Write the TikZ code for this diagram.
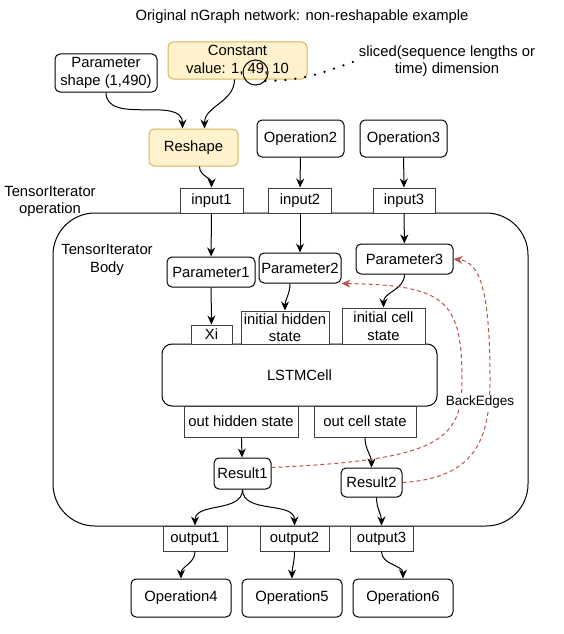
\documentclass[tikz,border=0pt]{standalone}
\usepackage{fontspec}
\setmainfont{Liberation Sans}
\usetikzlibrary{arrows.meta,positioning,calc,shapes}

\definecolor{noteyellow}{HTML}{FFF2CC}
\definecolor{noteborder}{HTML}{D6B656}
\definecolor{backred}{HTML}{B85450}

\tikzset{
  opbox/.style={draw, rounded corners=5pt, line width=1pt, fill=white, align=center, inner sep=0pt},
  yellowbox/.style={opbox, draw=noteborder, fill=noteyellow},
  portbox/.style={draw=black!75, line width=1pt, fill=white, align=center, inner sep=0pt},
  flow/.style={line width=1pt, -{Stealth[length=9pt,width=8pt]}},
  backedge/.style={draw=backred, line width=1pt, dashed, dash pattern=on 4pt off 3pt, -{Stealth[length=9pt,width=8pt]}}
}

\begin{document}
\begin{tikzpicture}[x=1pt, y=-1pt, font=\fontsize{14.8}{17.5}\selectfont]
        % the frame of the page
        \useasboundingbox (0,0) rectangle (564,634);

        % title and notes
        \node (title) at (302,17) {Original nGraph network: non-reshapable example};
        \node[align=center] (sliced) at (447,61) {sliced(sequence lengths or\\time) dimension};
        \node[align=center] (tiop) at (50,201.5) {TensorIterator\\operation};

        % the TensorIterator operation
        \draw[line width=1pt, rounded corners=42pt] (53,213) rectangle (528,526);
        \node[align=center] (tibody) at (107,260) {TensorIterator\\Body};

        % nodes outside
        \node[opbox, minimum width=102pt, minimum height=38pt] (param) at (106,73) {Parameter\\shape (1,490)};
        \node[yellowbox, minimum width=139pt, minimum height=37pt] (const) at (237.5,60.5) {Constant\\value: 1, 49, 10};
        \node[draw, circle, line width=1pt, minimum size=25pt, inner sep=0pt] (circ) at (255.5,72.5) {};
        \node[yellowbox, minimum width=89pt, minimum height=37pt] (reshape) at (193.5,147.5) {Reshape};
        \node[opbox, minimum width=87pt, minimum height=37pt] (op2) at (300.5,138.5) {Operation2};
        \node[opbox, minimum width=87pt, minimum height=37pt] (op3) at (403.5,138.5) {Operation3};

        % ports
        \node[portbox, minimum width=63pt, minimum height=25pt] (in1) at (211.5,200.5) {input1};
        \node[portbox, minimum width=63pt, minimum height=25pt] (in2) at (300,200.5) {input2};
        \node[portbox, minimum width=62pt, minimum height=25pt] (in3) at (404,200.5) {input3};
        \node[portbox, minimum width=64pt, minimum height=25pt] (out1) at (195,538.5) {output1};
        \node[portbox, minimum width=69pt, minimum height=25pt] (out2) at (294.5,538.5) {output2};
        \node[portbox, minimum width=63pt, minimum height=25pt] (out3) at (381.5,538.5) {output3};

        % the body
        \node[opbox, minimum width=88pt, minimum height=30pt] (par1) at (211,272) {Parameter1};
        \node[opbox, minimum width=82pt, minimum height=30pt] (par2) at (300,268) {Parameter2};
        \node[opbox, minimum width=97pt, minimum height=30pt] (par3) at (404.5,259) {Parameter3};
        \node[opbox, rounded corners=10pt, minimum width=275pt, minimum height=62pt] (lstm) at (299.5,375) {LSTMCell};
        \node[portbox, minimum width=41pt, minimum height=19pt] (xi) at (211.5,334.5) {Xi};
        \node[portbox, minimum width=88pt, minimum height=33pt] (inith) at (285,327.5) {initial hidden\\state};
        \node[portbox, minimum width=83pt, minimum height=36pt] (initc) at (383.5,326) {initial cell\\state};
        \node[portbox, minimum width=114pt, minimum height=31pt] (outh) at (241,421.5) {out hidden state};
        \node[portbox, minimum width=102pt, minimum height=31pt] (outc) at (365,421.5) {out cell state};
        \node[opbox, minimum width=57pt, minimum height=31pt] (res1) at (242.5,473.5) {Result1};
        \node[opbox, minimum width=61pt, minimum height=29pt] (res2) at (371.5,482.5) {Result2};

        % nodes below
        \node[opbox, minimum width=100pt, minimum height=38pt] (op4) at (181,598) {Operation4};
        \node[opbox, minimum width=100pt, minimum height=38pt] (op5) at (292,598) {Operation5};
        \node[opbox, minimum width=100pt, minimum height=38pt] (op6) at (403,598) {Operation6};

        % the sliced dimension
        \draw[line width=2.5pt, line cap=round, dash pattern=on 0pt off 10pt]
              (circ.-40) to[out=0,in=200] (sliced.west);

        % the data flow
        \draw[flow] (param.south) to[out=-90,in=90] ([xshift=-11pt]reshape.north);
        \draw[flow] ([xshift=-3pt]const.south) to[out=-90,in=90] ([xshift=11pt]reshape.north);
        \draw[flow] ([xshift=6pt]reshape.south) to[out=-90,in=90] (in1.north);
        \draw[flow] (op2) -- (in2);
        \draw[flow] (op3) -- (in3);
        \draw[flow] (in1) -- (par1);
        \draw[flow] (in2) -- (par2);
        \draw[flow] (in3) -- (par3);
        \draw[flow] (par1) -- (xi);
        \draw[flow] ([xshift=-10pt]par2.south) to[out=-90,in=90] (inith.north);
        \draw[flow] (par3.south) to[out=-90,in=90] (initc.north);
        \draw[flow] (outh) -- (res1);
        \draw[flow] (outc.south) to[out=-90,in=90] (res2.north);
        \draw[flow] (res1.south) to[out=-90,in=90] (out1.north);
        \draw[flow] (res1.south) to[out=-90,in=90] (out2.north);
        \draw[flow] ([xshift=5pt]res2.south) to[out=-90,in=90] (out3.north);
        \draw[flow] (out1.south) to[out=-90,in=90] (op4.north);
        \draw[flow] (out2.south) to[out=-90,in=90] (op5.north);
        \draw[flow] (out3.south) to[out=-90,in=90] (op6.north);

        % back edges
        \draw[backedge] ([yshift=6pt]res1.east) .. controls (440,460) and (462,440) .. (462,380)
              .. controls (462,300) and (445,285) .. (par2.south east);
        \draw[backedge] (res2.east) .. controls (475,478) and (490,440) .. (490,380)
              .. controls (490,290) and (480,262) .. (par3.east);
        \node[fill=white, inner sep=1pt, font=\fontsize{13.5}{16}\selectfont] (backlbl) at (480,402) {BackEdges};
      \end{tikzpicture}
\end{document}
